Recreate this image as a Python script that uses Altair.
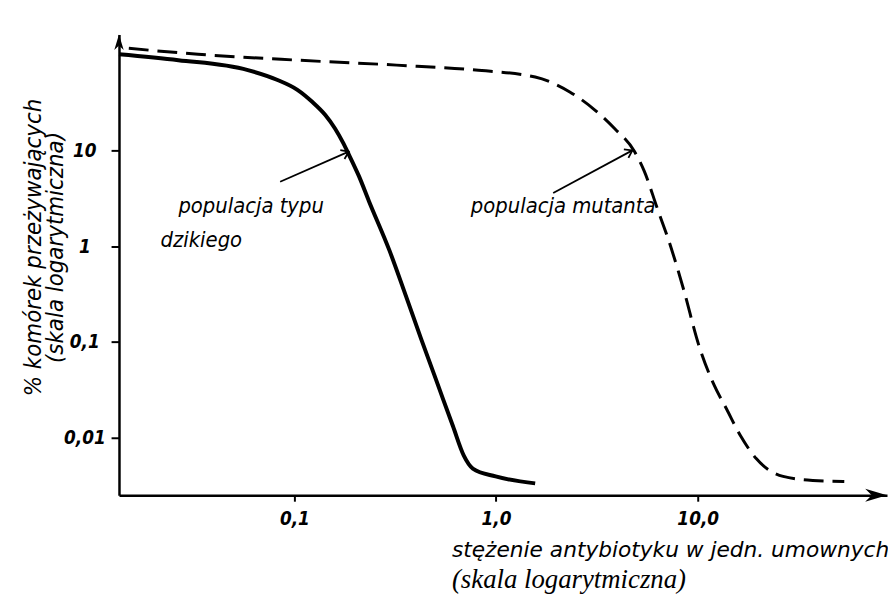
import altair as alt
import pandas as pd

# ---- data ----
wild_x = [0.0135, 0.0266, 0.0588, 0.0825, 0.1035, 0.1225, 0.142, 0.159, 0.174, 0.186, 0.209,
          0.234, 0.296, 0.359, 0.425, 0.493, 0.546, 0.611, 0.692, 0.767, 0.995, 1.563]
wild_y = [100.7, 87.3, 68.8, 54.2, 42.8, 32.1, 23.5, 16.9, 12.1, 9.10, 5.38,
          2.97, 0.904, 0.294, 0.108, 0.046, 0.0254, 0.0133, 0.00653, 0.00479, 0.00396, 0.00335]

mut_x = [0.0151, 0.0333, 0.1035, 0.321, 0.792, 1.563, 2.32, 3.08, 3.87, 4.85, 5.43,
         6.29, 7.37, 8.53, 10.1, 12.0, 13.9, 16.3, 19.5, 26.5, 37.2, 53.3]
mut_y = [116, 100.7, 87.3, 77.5, 68.8, 58.2, 40.7, 26.5, 16.9, 9.77, 6.07,
         2.51, 0.97, 0.348, 0.094, 0.0363, 0.02, 0.0105, 0.00608, 0.00396, 0.0036, 0.00351]

x_ticks = [0.1, 1, 10]
x_tick_labels = ["0,1", "1,0", "10,0"]
y_ticks = [10, 1, 0.1, 0.01]
y_tick_labels = ["10", "1", "0,1", "0,01"]

x_domain = [0.0135, 86.8]
y_domain = [0.00252, 162]

ann_text = ["populacja typu", "dzikiego", "populacja mutanta"]
ann_x = [0.0266, 0.0217, 0.75]
ann_y = [2.64, 1.17, 2.64]

arrow_x = [0.085, 1.92]
arrow_y = [4.7, 3.59]
arrow_x2 = [0.186, 4.74]
arrow_y2 = [9.7, 10]
arrow_angle = [64.6, 62.3]

y_title = ["% komórek przeżywających", "(skala logarytmiczna)"]
x_title_1 = "stężenie antybiotyku w jedn. umownych"
x_title_2 = "(skala logarytmiczna)"

HAND = "DejaVu Sans Condensed, Liberation Sans Narrow, DejaVu Sans"

def label_expr(vals, labs):
    parts = []
    for v, l in zip(vals, labs):
        parts.append(f"abs(datum.value - {v}) < {v}*0.01 ? '{l}'")
    return " : ".join(parts) + " : ''"

wild = pd.DataFrame({"x": wild_x, "y": wild_y, "o": range(len(wild_x))})
mut = pd.DataFrame({"x": mut_x, "y": mut_y, "o": range(len(mut_x))})
ann = pd.DataFrame({"t": ann_text, "x": ann_x, "y": ann_y})
arr = pd.DataFrame({"x": arrow_x, "y": arrow_y, "x2": arrow_x2, "y2": arrow_y2, "a": arrow_angle})
xarrow = pd.DataFrame({"x": [x_domain[1]], "y": [y_domain[0]]})
yarrow = pd.DataFrame({"x": [x_domain[0]], "y": [y_domain[1]]})

xs = alt.Scale(type="log", domain=x_domain, nice=False)
ys = alt.Scale(type="log", domain=y_domain, nice=False)

X = alt.X("x:Q", scale=xs, axis=alt.Axis(values=x_ticks, labelExpr=label_expr(x_ticks, x_tick_labels),
                                          title=None, tickSize=6, labelPadding=9, labelFontSize=19))
Y = alt.Y("y:Q", scale=ys, axis=alt.Axis(values=y_ticks, labelExpr=label_expr(y_ticks, y_tick_labels),
                                          title=None, tickSize=8, labelPadding=27, labelAlign="center",
                                          labelBaseline="middle", labelFontSize=19))

base_wild = alt.Chart(wild).mark_line(color="black", strokeWidth=4, interpolate="monotone").encode(
    x=X, y=Y, order="o:Q")
base_mut = alt.Chart(mut).mark_line(color="black", strokeWidth=3, strokeDash=[20, 9],
                                    interpolate="monotone").encode(
    x=alt.X("x:Q", scale=xs), y=alt.Y("y:Q", scale=ys), order="o:Q")

ann_layer = alt.Chart(ann).mark_text(align="left", baseline="middle", font=HAND, fontSize=22,
                                     fontStyle="italic", color="black").encode(
    x=alt.X("x:Q", scale=xs), y=alt.Y("y:Q", scale=ys), text="t:N")

arr_lines = alt.Chart(arr).mark_rule(color="black", strokeWidth=1.8).encode(
    x=alt.X("x:Q", scale=xs), y=alt.Y("y:Q", scale=ys), x2="x2:Q", y2="y2:Q")
arr_heads = alt.Chart(arr).mark_point(shape="M-0.7,1 L0,0 L0.7,1", filled=False, size=200,
                                      color="black", strokeWidth=1.8, opacity=1).encode(
    x=alt.X("x2:Q", scale=xs), y=alt.Y("y2:Q", scale=ys), angle=alt.Angle("a:Q", scale=None))

xa = alt.Chart(xarrow).mark_point(shape="M0,0 L-1,-0.3 L-0.7,0 L-1,0.3 Z", filled=True, size=1936,
                                  color="black", opacity=1).encode(
    x=alt.X("x:Q", scale=xs), y=alt.Y("y:Q", scale=ys))
ya = alt.Chart(yarrow).mark_point(shape="M0,0 L-0.3,1 L0,0.7 L0.3,1 Z", filled=True, size=1000,
                                  color="black", opacity=1).encode(
    x=alt.X("x:Q", scale=xs), y=alt.Y("y:Q", scale=ys))

ytitle = alt.Chart(pd.DataFrame({"t": y_title, "px": [-86, -64]})).mark_text(
    angle=270, align="center", baseline="middle", font=HAND, fontSize=24, fontStyle="italic",
    color="black").encode(x=alt.X("px:Q", scale=None), y=alt.value(215), text="t:N")

xtitle1 = alt.Chart(pd.DataFrame({"t": [x_title_1]})).mark_text(
    align="left", baseline="middle", font="DejaVu Sans", fontSize=21.9, fontStyle="italic",
    color="black").encode(x=alt.value(336), y=alt.value(520), text="t:N")
xtitle2 = alt.Chart(pd.DataFrame({"t": [x_title_2]})).mark_text(
    align="left", baseline="middle", font="Liberation Serif", fontSize=27, fontStyle="italic",
    color="black").encode(x=alt.value(336), y=alt.value(551), text="t:N")

chart = alt.layer(base_wild, base_mut, arr_lines, arr_heads, ann_layer, xa, ya, ytitle, xtitle1, xtitle2
).properties(
    width=775, height=465, autosize=alt.AutoSizeParams(type="none"),
    padding={"left": 112, "top": 24, "right": 1, "bottom": 100}
).configure_view(stroke=None).configure_axis(
    domainColor="black", domainWidth=2.5, tickColor="black", tickWidth=2, grid=False,
    labelFont=HAND, labelFontStyle="italic", labelFontWeight="bold", labelColor="black"
)

chart.save("out.html", embed_options={"renderer": "svg", "actions": False})
